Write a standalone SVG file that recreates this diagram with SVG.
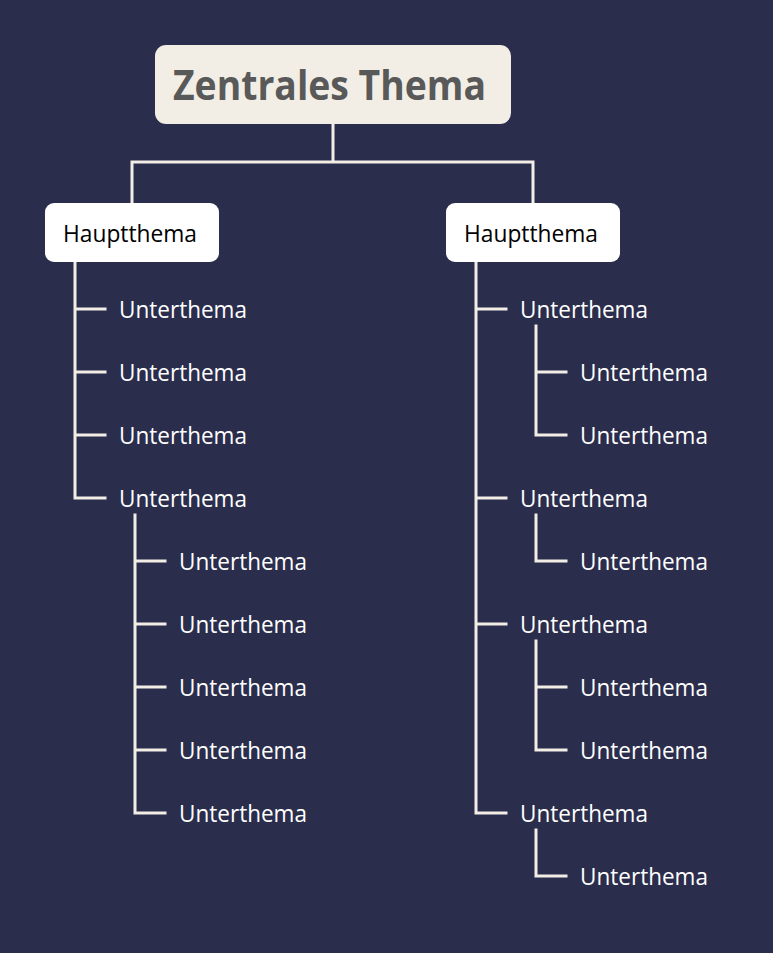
<svg xmlns="http://www.w3.org/2000/svg" width="773" height="953" viewBox="0 0 773 953">
<style>
.bg{fill:#2b2d4c}
.c{fill:none;stroke:#f2eee6;stroke-width:3;stroke-linecap:square;stroke-linejoin:miter}
.root{fill:#f2eee6}
.main{fill:#ffffff}
.tr{font-family:"Open Sans","Noto Sans","Liberation Sans",sans-serif;font-weight:bold;font-size:41px;fill:#595959}
.tm{font-family:"Open Sans","Noto Sans","Liberation Sans",sans-serif;font-size:24px;fill:#000000}
.ts{font-family:"Open Sans","Noto Sans","Liberation Sans",sans-serif;font-size:24px;fill:#ffffff}
</style>
<rect class="bg" x="0" y="0" width="773" height="953"/>
<g id="connectors">
<path class="c" d="M333,124 V162 M132,162 H533 M132,162 V203 M533,162 V203"/>
<path class="c" d="M75,262 V498 M75,309 H105 M75,372 H105 M75,435 H105 M75,498 H105"/>
<path class="c" d="M135,515 V813 M135,561 H165 M135,624 H165 M135,687 H165 M135,750 H165 M135,813 H165"/>
<path class="c" d="M476,262 V813 M476,309 H506 M476,498 H506 M476,624 H506 M476,813 H506"/>
<path class="c" d="M536,326 V435 H566 M536,372 H566"/>
<path class="c" d="M536,515 V561 H566"/>
<path class="c" d="M536,641 V750 H566 M536,687 H566"/>
<path class="c" d="M536,830 V876 H566"/>
</g>
<g id="root"><rect class="root" x="155" y="45" width="356" height="79" rx="11"/><text class="tr" x="173" y="100" textLength="313" lengthAdjust="spacingAndGlyphs">Zentrales Thema</text></g>
<g id="main1"><rect class="main" x="45" y="203" width="174" height="59" rx="9"/><text class="tm" x="63" y="242" textLength="134" lengthAdjust="spacingAndGlyphs">Hauptthema</text></g>
<g id="main2"><rect class="main" x="446" y="203" width="174" height="59" rx="9"/><text class="tm" x="464" y="242" textLength="134" lengthAdjust="spacingAndGlyphs">Hauptthema</text></g>
<g id="l1"><text class="ts" x="119" y="318" textLength="128" lengthAdjust="spacingAndGlyphs">Unterthema</text></g>
<g id="l2"><text class="ts" x="119" y="381" textLength="128" lengthAdjust="spacingAndGlyphs">Unterthema</text></g>
<g id="l3"><text class="ts" x="119" y="444" textLength="128" lengthAdjust="spacingAndGlyphs">Unterthema</text></g>
<g id="l4"><text class="ts" x="119" y="507" textLength="128" lengthAdjust="spacingAndGlyphs">Unterthema</text></g>
<g id="l4a"><text class="ts" x="179" y="570" textLength="128" lengthAdjust="spacingAndGlyphs">Unterthema</text></g>
<g id="l4b"><text class="ts" x="179" y="633" textLength="128" lengthAdjust="spacingAndGlyphs">Unterthema</text></g>
<g id="l4c"><text class="ts" x="179" y="696" textLength="128" lengthAdjust="spacingAndGlyphs">Unterthema</text></g>
<g id="l4d"><text class="ts" x="179" y="759" textLength="128" lengthAdjust="spacingAndGlyphs">Unterthema</text></g>
<g id="l4e"><text class="ts" x="179" y="822" textLength="128" lengthAdjust="spacingAndGlyphs">Unterthema</text></g>
<g id="r1"><text class="ts" x="520" y="318" textLength="128" lengthAdjust="spacingAndGlyphs">Unterthema</text></g>
<g id="r1a"><text class="ts" x="580" y="381" textLength="128" lengthAdjust="spacingAndGlyphs">Unterthema</text></g>
<g id="r1b"><text class="ts" x="580" y="444" textLength="128" lengthAdjust="spacingAndGlyphs">Unterthema</text></g>
<g id="r2"><text class="ts" x="520" y="507" textLength="128" lengthAdjust="spacingAndGlyphs">Unterthema</text></g>
<g id="r2a"><text class="ts" x="580" y="570" textLength="128" lengthAdjust="spacingAndGlyphs">Unterthema</text></g>
<g id="r3"><text class="ts" x="520" y="633" textLength="128" lengthAdjust="spacingAndGlyphs">Unterthema</text></g>
<g id="r3a"><text class="ts" x="580" y="696" textLength="128" lengthAdjust="spacingAndGlyphs">Unterthema</text></g>
<g id="r3b"><text class="ts" x="580" y="759" textLength="128" lengthAdjust="spacingAndGlyphs">Unterthema</text></g>
<g id="r4"><text class="ts" x="520" y="822" textLength="128" lengthAdjust="spacingAndGlyphs">Unterthema</text></g>
<g id="r4a"><text class="ts" x="580" y="885" textLength="128" lengthAdjust="spacingAndGlyphs">Unterthema</text></g>
</svg>
